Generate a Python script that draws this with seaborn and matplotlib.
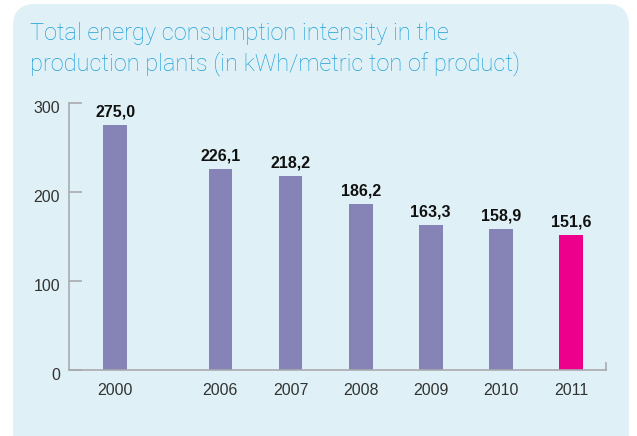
import numpy as np
import pandas as pd
import matplotlib
matplotlib.use('Agg')
import matplotlib.pyplot as plt
import matplotlib.transforms as mtransforms
from matplotlib.patches import FancyBboxPatch
import seaborn as sns

# data
years = ['2000', '2006', '2007', '2008', '2009', '2010', '2011']
values = [275.0, 226.1, 218.2, 186.2, 163.3, 158.9, 151.6]
yticks = [0, 100, 200, 300]
title_lines = ['Total energy consumption intensity in the',
               'production plants (in kWh/metric ton of product)']

purple = '#8683b6'
magenta = '#ec008c'
panel = '#dff1f6'
title_col = '#1f9fd8'
grey = '#a9abae'

sns.set_theme(style='white')
plt.rcParams['font.family'] = ['Liberation Sans', 'DejaVu Sans']

# extra half slot between 2000 and the rest
pos = np.arange(len(years)) + 0.5 * (np.arange(len(years)) > 0)
df = pd.DataFrame({'pos': pos, 'value': values, 'year': years})
pal = {y: purple for y in years}
pal['2011'] = magenta

fig = plt.figure(figsize=(6.37, 4.36), dpi=100)
fig.patch.set_facecolor('white')

# rounded background panel, drawn in pixel units
bg = fig.add_axes([0, 0, 1, 1])
bg.set_xlim(0, 637)
bg.set_ylim(436, 0)
bg.axis('off')
bg.add_patch(FancyBboxPatch((13, 4), 616, 450, boxstyle='round,pad=0,rounding_size=22',
                            facecolor=panel, edgecolor='none'))

ax = fig.add_axes([69 / 637, 1 - 370 / 436, (606 - 69) / 637, (370 - 103) / 436])
ax.set_facecolor('none')

sns.barplot(data=df, x='pos', y='value', hue='year', palette=pal, native_scale=True,
            width=0.34, legend=False, saturation=1, linewidth=0, ax=ax)

for c, v in zip(ax.containers, values):
    ax.bar_label(c, labels=[f'{v:.1f}'.replace('.', ',')], padding=4,
                 fontsize=11.5, fontweight='bold', color='#111111')

ax.set_xlim(-0.66, 7.0)
ax.set_ylim(0, 300)
ax.set_xticks(pos)
ax.set_xticklabels(years)
ax.set_yticks(yticks)
ax.set_xlabel('')
ax.set_ylabel('')

for s in ['left', 'bottom', 'right']:
    ax.spines[s].set_visible(True)
    ax.spines[s].set_color(grey)
    ax.spines[s].set_linewidth(1.2)
ax.spines['top'].set_visible(False)
ax.spines['right'].set_bounds(0, 8)

ax.tick_params(axis='y', direction='in', length=9, width=1.2, color=grey,
               pad=6.5, labelsize=11.5, labelcolor='#333333', left=True)
ax.tick_params(axis='x', length=0, pad=9, labelsize=11.5, labelcolor='#333333')

off = mtransforms.ScaledTranslation(0, -4 / 100, fig.dpi_scale_trans)
for lab in ax.get_yticklabels():
    lab.set_transform(lab.get_transform() + off)

fig.text(30 / 637, 1 - 40 / 436, title_lines[0], fontsize=17, color=title_col,
         va='baseline', family=['Roboto', 'DejaVu Sans'], fontweight='light')
fig.text(30 / 637, 1 - 70 / 436, title_lines[1], fontsize=17, color=title_col,
         va='baseline', family=['Roboto', 'DejaVu Sans'], fontweight='light')

fig.savefig('out.png', dpi=100)
